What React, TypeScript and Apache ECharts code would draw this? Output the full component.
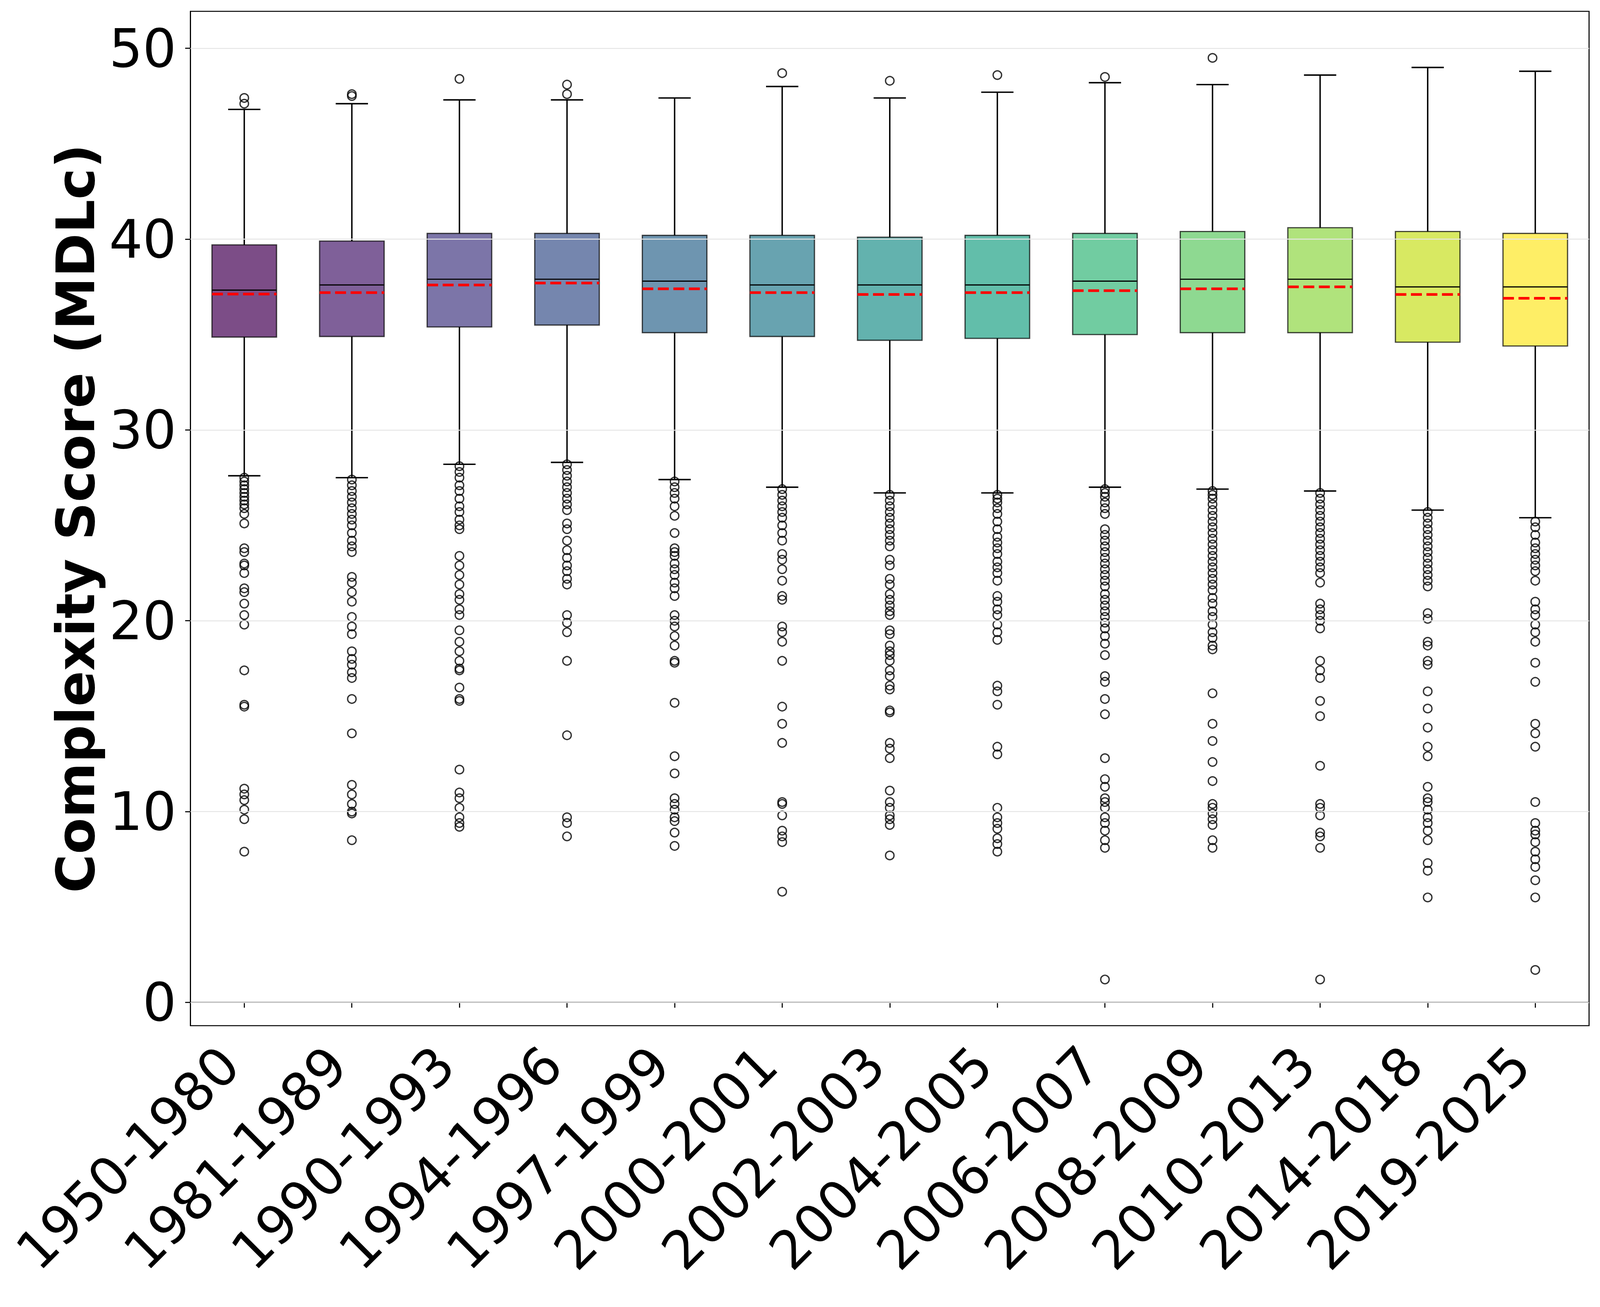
import { useEffect, useRef, useState } from 'react';
import * as echarts from 'echarts';

const periods = [
  '1950-1980', '1981-1989', '1990-1993', '1994-1996', '1997-1999', '2000-2001', '2002-2003',
  '2004-2005', '2006-2007', '2008-2009', '2010-2013', '2014-2018', '2019-2025',
];

const whiskerLow = [27.6, 27.5, 28.2, 28.3, 27.4, 27.0, 26.7, 26.7, 27.0, 26.9, 26.8, 25.8, 25.4];
const q1 = [34.87, 34.9, 35.4, 35.5, 35.1, 34.9, 34.7, 34.8, 35.0, 35.1, 35.1, 34.6, 34.4];
const medians = [37.33, 37.6, 37.9, 37.9, 37.8, 37.6, 37.6, 37.6, 37.8, 37.9, 37.9, 37.5, 37.5];
const q3 = [39.7, 39.9, 40.3, 40.3, 40.2, 40.2, 40.1, 40.2, 40.3, 40.4, 40.6, 40.4, 40.3];
const whiskerHigh = [46.8, 47.1, 47.3, 47.3, 47.4, 48.0, 47.4, 47.7, 48.2, 48.1, 48.6, 49.0, 48.8];
const means = [37.12, 37.2, 37.6, 37.7, 37.4, 37.2, 37.1, 37.2, 37.3, 37.4, 37.5, 37.1, 36.9];

// flier values per period, same order as periods
const outliers: number[][] = [
  [47.4, 47.1, 27.5, 27.3, 27.1, 26.9, 26.7, 26.5, 26.3, 26.1, 25.9, 25.6, 25.1, 23.8, 23.6, 23.0, 22.9, 22.5, 21.7, 21.5, 20.9, 20.3, 19.8, 17.4, 15.6, 15.5, 11.2, 10.9, 10.6, 10.1, 9.6, 7.9],
  [47.6, 47.5, 27.4, 27.1, 26.8, 26.5, 26.2, 25.9, 25.6, 25.3, 25.0, 24.6, 24.2, 23.9, 23.6, 22.3, 22.0, 21.5, 21.0, 20.2, 19.7, 19.3, 18.4, 18.0, 17.7, 17.3, 17.0, 15.9, 14.1, 11.4, 10.9, 10.4, 10.0, 9.9, 8.5],
  [48.4, 28.1, 27.8, 27.5, 27.1, 26.8, 26.4, 26.0, 25.7, 25.3, 25.0, 24.8, 23.4, 22.9, 22.4, 21.9, 21.4, 21.1, 20.6, 20.3, 19.5, 18.9, 18.4, 17.9, 17.5, 17.4, 16.5, 15.9, 15.8, 12.2, 11.0, 10.7, 10.2, 9.7, 9.4, 9.2],
  [48.1, 47.6, 28.2, 27.9, 27.6, 27.3, 27.0, 26.7, 26.4, 26.1, 25.8, 25.1, 24.8, 24.2, 23.7, 23.3, 22.9, 22.6, 22.2, 21.9, 20.3, 19.9, 19.4, 17.9, 14.0, 9.7, 9.4, 8.7],
  [27.3, 27.0, 26.7, 26.4, 26.0, 25.5, 24.6, 23.8, 23.6, 23.4, 23.0, 22.7, 22.4, 22.0, 21.7, 21.3, 20.3, 20.0, 19.7, 19.2, 18.7, 17.9, 17.8, 15.7, 12.9, 12.0, 10.7, 10.4, 10.1, 9.7, 9.5, 8.9, 8.2],
  [48.7, 26.9, 26.6, 26.3, 26.0, 25.7, 25.4, 25.0, 24.6, 24.2, 23.5, 23.2, 22.7, 22.1, 21.3, 21.1, 19.7, 19.4, 18.9, 17.9, 15.5, 14.6, 13.6, 10.5, 10.4, 9.8, 9.0, 8.7, 8.4, 5.8],
  [48.3, 26.6, 26.3, 26.0, 25.7, 25.4, 25.1, 24.8, 24.5, 24.2, 23.9, 23.2, 22.9, 22.2, 21.9, 21.4, 21.1, 20.8, 20.5, 20.3, 19.5, 19.3, 18.7, 18.4, 18.2, 17.9, 17.4, 17.1, 16.6, 16.4, 15.3, 15.2, 13.6, 13.3, 12.8, 11.1, 10.5, 10.2, 9.8, 9.6, 9.3, 7.7],
  [48.6, 26.6, 26.4, 26.2, 25.9, 25.6, 25.2, 24.8, 24.4, 24.1, 23.8, 23.5, 23.1, 22.8, 22.5, 22.1, 21.3, 21.0, 20.6, 20.3, 19.8, 19.4, 19.0, 16.6, 16.3, 15.6, 13.4, 13.0, 10.2, 9.7, 9.4, 9.1, 8.6, 8.3, 7.9],
  [48.5, 26.9, 26.7, 26.5, 26.2, 25.9, 25.6, 24.8, 24.5, 24.2, 23.9, 23.6, 23.3, 23.0, 22.7, 22.4, 22.1, 21.8, 21.4, 21.1, 20.8, 20.5, 20.2, 19.9, 19.6, 19.2, 18.8, 18.2, 17.1, 16.8, 15.9, 15.1, 12.8, 11.7, 11.3, 10.7, 10.5, 10.2, 9.7, 9.4, 9.0, 8.5, 8.1, 1.2],
  [49.5, 26.8, 26.6, 26.4, 26.1, 25.8, 25.5, 25.2, 24.9, 24.6, 24.3, 24.0, 23.7, 23.4, 23.1, 22.8, 22.5, 22.2, 21.9, 21.6, 21.2, 20.9, 20.5, 20.2, 19.8, 19.4, 19.1, 18.7, 18.5, 16.2, 14.6, 13.7, 12.6, 11.6, 10.4, 10.2, 9.9, 9.6, 9.3, 8.5, 8.1],
  [26.7, 26.4, 26.1, 25.8, 25.5, 25.2, 24.9, 24.6, 24.3, 24.0, 23.7, 23.4, 23.1, 22.8, 22.5, 22.0, 20.9, 20.6, 20.3, 20.0, 19.6, 17.9, 17.4, 17.0, 15.8, 15.0, 12.4, 10.4, 10.2, 9.8, 8.9, 8.7, 8.1, 1.2],
  [25.7, 25.4, 25.1, 24.8, 24.5, 24.2, 23.9, 23.6, 23.3, 23.0, 22.7, 22.4, 22.1, 21.8, 20.4, 20.1, 18.9, 18.7, 17.9, 17.7, 16.3, 15.4, 14.4, 13.4, 12.9, 11.3, 10.7, 10.5, 10.1, 9.7, 9.4, 9.0, 8.5, 7.3, 6.9, 5.5],
  [25.2, 24.9, 24.5, 24.1, 23.8, 23.5, 23.2, 22.9, 22.6, 22.1, 21.0, 20.6, 20.3, 19.8, 19.4, 18.9, 17.8, 16.8, 14.6, 14.1, 13.4, 10.5, 9.4, 9.0, 8.8, 8.4, 7.9, 7.5, 7.1, 6.4, 5.5, 1.7],
];

const yTicks = [0, 10, 20, 30, 40, 50];

// viridis, sampled evenly over the 13 periods
const boxColors = [
  '#440154', '#481c6e', '#443a83', '#3b528b', '#31688e', '#287c8e', '#21918c',
  '#20a386', '#35b779', '#5ec962', '#8fd744', '#c8e020', '#fde725',
];

const withAlpha = (hex: string, a: number) => {
  const r = parseInt(hex.slice(1, 3), 16);
  const g = parseInt(hex.slice(3, 5), 16);
  const b = parseInt(hex.slice(5, 7), 16);
  return `rgba(${r},${g},${b},${a})`;
};

// layout was measured on a 4536 x 3345 canvas
const BASE_W = 4536;
const BASE_H = 3345;

export default function App() {
  const chartRef = useRef<HTMLDivElement>(null);
  const [size] = useState(() => ({ w: window.innerWidth, h: window.innerHeight }));

  useEffect(() => {
    if (!chartRef.current) return;
    const chart = echarts.init(chartRef.current, undefined, { renderer: 'svg' });
    const kx = size.w / BASE_W;
    const ky = size.h / BASE_H;
    const s = (v: number) => v * kx;
    const sy = (v: number) => v * ky;

    const boxData = periods.map((_, i) => [
      i, whiskerLow[i], q1[i], medians[i], q3[i], whiskerHigh[i], means[i],
    ]);
    const flierData: number[][] = [];
    outliers.forEach((vals, i) => vals.forEach((v) => flierData.push([i, v])));

    const option: echarts.EChartsOption = {
      animation: false,
      backgroundColor: '#ffffff',
      textStyle: { fontFamily: 'DejaVu Sans' },
      grid: {
        left: s(540),
        right: s(31),
        top: sy(29),
        bottom: size.h - sy(2625),
        show: true,
        borderColor: '#000',
        borderWidth: s(3),
        backgroundColor: 'transparent',
      },
      xAxis: {
        type: 'category',
        data: periods,
        boundaryGap: true,
        axisLine: { show: true, lineStyle: { color: '#000', width: s(3) } },
        axisTick: { show: true, alignWithLabel: true, length: s(15), lineStyle: { color: '#000', width: s(3) } },
        axisLabel: {
          interval: 0,
          rotate: 45,
          fontSize: s(150),
          color: '#000',
          margin: s(45),
          padding: [0, s(58), 0, 0],
        },
        splitLine: { show: false },
      },
      yAxis: {
        type: 'value',
        min: -1.22,
        max: 51.94,
        name: 'Complexity Score (MDLc)',
        nameLocation: 'middle',
        nameRotate: 90,
        nameGap: s(250),
        nameTextStyle: { fontSize: s(150), fontWeight: 'bold', color: '#000' },
        axisLine: { show: true, lineStyle: { color: '#000', width: s(3) } },
        axisTick: { show: true, length: s(15), customValues: yTicks, lineStyle: { color: '#000', width: s(3) } },
        axisLabel: { customValues: yTicks, fontSize: s(150), color: '#000', margin: s(40) },
        splitLine: { show: false },
      },
      series: [
        {
          // horizontal grid lines
          type: 'line',
          data: [],
          z: 0,
          silent: true,
          markLine: {
            silent: true,
            symbol: 'none',
            label: { show: false },
            lineStyle: { color: '#e5e5e5', width: s(2.5), type: 'solid' },
            data: yTicks.map((t) => ({ yAxis: t })),
          },
        },
        {
          type: 'custom',
          z: 2,
          data: boxData,
          encode: { x: 0, y: [1, 2, 3, 4, 5, 6] },
          renderItem: (params: any, api: any) => {
            const i = api.value(0);
            const band = api.size([1, 0])[0];
            const boxW = band * 0.6;
            const capW = band * 0.3;
            const [cx, yLow] = api.coord([i, api.value(1)]);
            const yQ1 = api.coord([i, api.value(2)])[1];
            const yMed = api.coord([i, api.value(3)])[1];
            const yQ3 = api.coord([i, api.value(4)])[1];
            const yHigh = api.coord([i, api.value(5)])[1];
            const yMean = api.coord([i, api.value(6)])[1];
            const black = { stroke: '#000', lineWidth: s(4) };
            const left = cx - boxW / 2;
            const right = cx + boxW / 2;
            return {
              type: 'group',
              children: [
                { type: 'line', shape: { x1: cx, y1: yLow, x2: cx, y2: yQ1 }, style: black },
                { type: 'line', shape: { x1: cx, y1: yQ3, x2: cx, y2: yHigh }, style: black },
                { type: 'line', shape: { x1: cx - capW / 2, y1: yLow, x2: cx + capW / 2, y2: yLow }, style: black },
                { type: 'line', shape: { x1: cx - capW / 2, y1: yHigh, x2: cx + capW / 2, y2: yHigh }, style: black },
                {
                  type: 'rect',
                  shape: { x: left, y: yQ3, width: boxW, height: yQ1 - yQ3 },
                  style: { fill: withAlpha(boxColors[i], 0.7), stroke: 'rgba(0,0,0,0.7)', lineWidth: s(3.5) },
                },
                { type: 'line', shape: { x1: left, y1: yMed, x2: right, y2: yMed }, style: { stroke: '#000', lineWidth: s(3.3) } },
                {
                  type: 'line',
                  shape: { x1: left, y1: yMean, x2: right, y2: yMean },
                  style: { stroke: '#ff0000', lineWidth: s(7.5), lineDash: [s(31), s(13)] },
                },
              ],
            };
          },
        },
        {
          type: 'scatter',
          z: 3,
          data: flierData,
          symbol: 'circle',
          symbolSize: s(24),
          itemStyle: { color: 'none', borderColor: '#000', borderWidth: s(3.8) },
        },
      ],
    };

    chart.setOption(option);

    return () => {
      chart.dispose();
    };
  }, [size]);

  return (
    <div
      ref={chartRef}
      style={{ position: 'fixed', left: 0, top: 0, width: `${size.w}px`, height: `${size.h}px`, background: '#fff' }}
    />
  );
}
